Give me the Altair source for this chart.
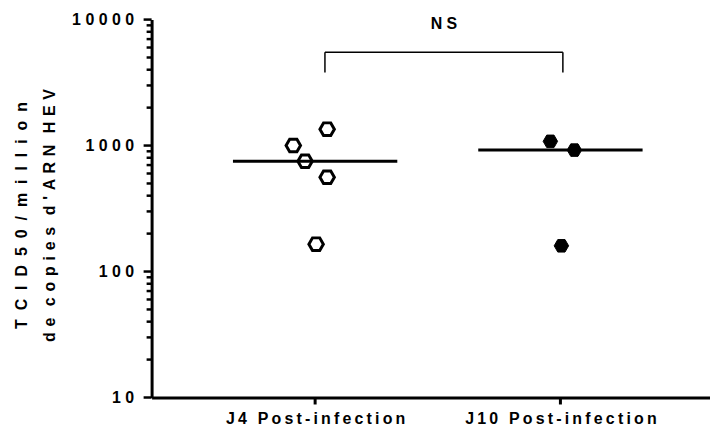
import altair as alt
import pandas as pd

# ---- data ----
groups = ["J4 Post-infection", "J10 Post-infection"]
group_pos = [1, 2]
j4_values = [1350, 1000, 750, 560, 165]
j4_jitter = [0.049, -0.089, -0.041, 0.049, 0.004]
j10_values = [1080, 920, 160]
j10_jitter = [-0.041, 0.057, 0.004]
y_major = [10, 100, 1000, 10000]
y_minor = [m * k for m in [10, 100, 1000] for k in range(2, 10)]
title_lines = ["TCID50/million", "de copies d'ARN HEV"]
sig_label = "NS"
bracket_x = [1.04, 2.01]
bracket_top = 5500
bracket_bottom = 3800
sig_y = 9300

THIN = "\u2009"
HAIR = "\u200A"
FONT = "Liberation Sans"
FS = 16
PLOT_W, PLOT_H = 560, 379


def spaced(s, sep=THIN):
    return sep.join(list(s))


pts = pd.DataFrame({
    "x": [group_pos[0] + j for j in j4_jitter] + [group_pos[1] + j for j in j10_jitter],
    "value": j4_values + j10_values,
    "pos": [group_pos[0]] * len(j4_values) + [group_pos[1]] * len(j10_values),
    "grp": [groups[0]] * len(j4_values) + [groups[1]] * len(j10_values),
})

seg = pd.DataFrame({
    "x": [bracket_x[0], bracket_x[0], bracket_x[1]],
    "x2": [bracket_x[1], bracket_x[0], bracket_x[1]],
    "y": [bracket_top, bracket_bottom, bracket_bottom],
    "y2": [bracket_top, bracket_top, bracket_top],
})
sig = pd.DataFrame({"x": [sum(bracket_x) / 2], "y": [sig_y], "t": [spaced(sig_label, " ")]})
ymaj_df = pd.DataFrame({"v": y_major})
ymin_df = pd.DataFrame({"v": y_minor})
xtick_df = pd.DataFrame({"p": group_pos})

xscale = alt.Scale(domain=[0.3333, 2.6098], nice=False, zero=False)
yscale = alt.Scale(type="log", domain=[10, 10000], nice=False)

x_label_expr = " : ".join(
    [f"datum.value == {p} ? '{spaced(g)}'" for p, g in zip(group_pos, groups)]
) + " : ''"
y_label_expr = " : ".join(
    [f"datum.value == {v} ? '{spaced(str(v), ' ')}'" for v in y_major]
) + " : ''"

x_axis = alt.Axis(
    values=group_pos, labelExpr=x_label_expr, title=None, grid=False, ticks=False,
    domainWidth=3, domainColor="black",
    labelFont=FONT, labelFontSize=FS, labelFontWeight="bold", labelColor="black",
    labelPadding=13, labelLimit=500,
)
y_axis = alt.Axis(
    values=y_major, labelExpr=y_label_expr, grid=False, orient="left", ticks=False,
    title=[spaced(title_lines[0], " " + THIN + HAIR), spaced(title_lines[1], " " + HAIR)],
    titleFont=FONT, titleFontSize=FS, titleFontWeight="bold", titleColor="black",
    titleLineHeight=28, titleX=-122, titleY=196,
    domainWidth=3, domainColor="black",
    labelFont=FONT, labelFontSize=FS, labelFontWeight="bold", labelColor="black",
    labelPadding=18, labelOverlap=False, labelBound=False,
)

HEX = "M-1,0L-0.5,-0.866L0.5,-0.866L1,0L0.5,0.866L-0.5,0.866Z"

base = alt.Chart(pts)
open_pts = base.transform_filter(f"datum.pos == {group_pos[0]}").mark_point(
    shape=HEX, size=210, filled=False, stroke="black", strokeWidth=3, opacity=1
).encode(
    x=alt.X("x:Q", scale=xscale, axis=x_axis),
    y=alt.Y("value:Q", scale=yscale, axis=y_axis),
)
filled_pts = base.transform_filter(f"datum.pos == {group_pos[1]}").mark_point(
    shape=HEX, size=210, filled=True, fill="black", stroke="black", strokeWidth=1, opacity=1
).encode(
    x=alt.X("x:Q", scale=xscale),
    y=alt.Y("value:Q", scale=yscale),
)
medians = base.transform_aggregate(
    med="median(value)", groupby=["pos"]
).transform_calculate(
    xa="datum.pos - 0.335", xb="datum.pos + 0.335"
).mark_rule(color="black", strokeWidth=3).encode(
    x=alt.X("xa:Q", scale=xscale),
    x2="xb:Q",
    y=alt.Y("med:Q", scale=yscale),
)
bracket = alt.Chart(seg).mark_rule(color="black", strokeWidth=1.5).encode(
    x=alt.X("x:Q", scale=xscale), x2="x2:Q",
    y=alt.Y("y:Q", scale=yscale), y2="y2:Q",
)
sig_text = alt.Chart(sig).mark_text(
    font=FONT, fontSize=FS, fontWeight="bold", color="black", baseline="middle"
).encode(
    x=alt.X("x:Q", scale=xscale), y=alt.Y("y:Q", scale=yscale), text="t:N"
)
# axis tick marks (major / minor on the log axis, category ticks on x)
ymaj_ticks = alt.Chart(ymaj_df).mark_rule(color="black", strokeWidth=2.5).encode(
    y=alt.Y("v:Q", scale=yscale), x=alt.value(-8), x2=alt.value(0)
)
ymin_ticks = alt.Chart(ymin_df).mark_rule(color="black", strokeWidth=2.5).encode(
    y=alt.Y("v:Q", scale=yscale), x=alt.value(-5), x2=alt.value(0)
)
x_ticks = alt.Chart(xtick_df).mark_rule(color="black", strokeWidth=3).encode(
    x=alt.X("p:Q", scale=xscale), y=alt.value(PLOT_H), y2=alt.value(PLOT_H + 7)
)

chart = alt.layer(
    open_pts, filled_pts, medians, bracket, sig_text, ymaj_ticks, ymin_ticks, x_ticks
).properties(
    width=PLOT_W, height=PLOT_H,
    autosize=alt.AutoSizeParams(type="none"),
    padding={"left": 144, "top": 11, "right": 0, "bottom": 40},
    background="white",
).configure_view(stroke=None)

chart.save("out.html", embed_options={"renderer": "svg", "actions": False})
